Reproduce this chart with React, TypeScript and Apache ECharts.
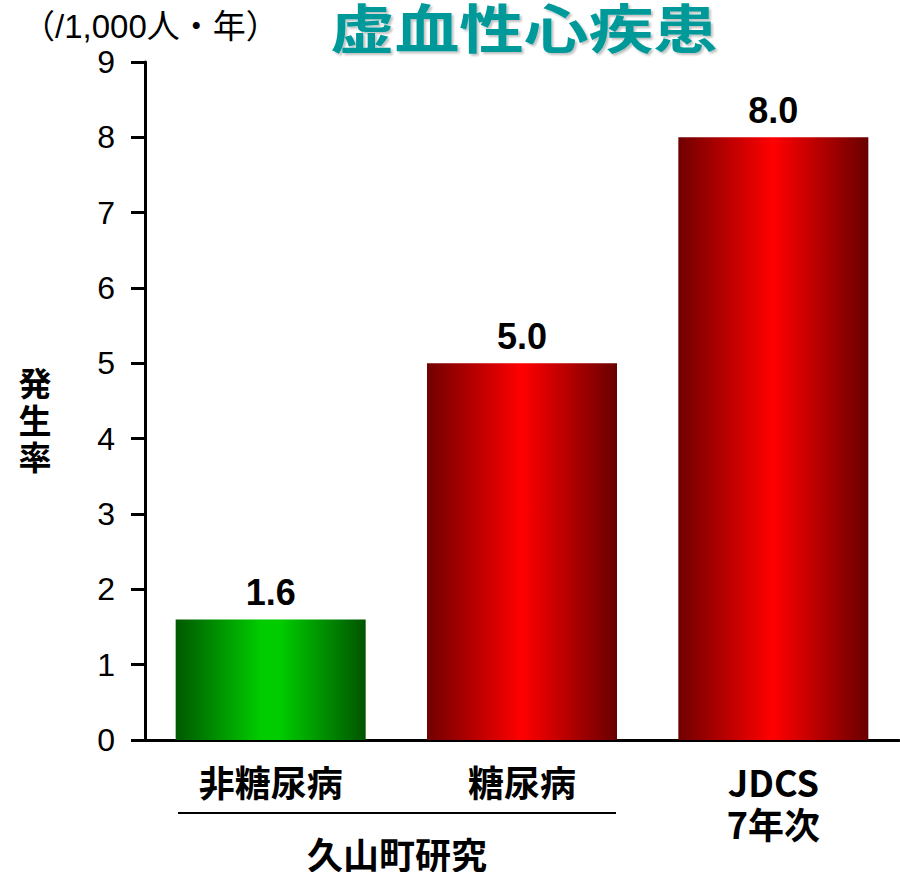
import React, { useEffect, useRef } from "react";
import * as echarts from "echarts";

const categories = ["非糖尿病", "糖尿病", "JDCS\n7年次"];
const values = [1.6, 5.0, 8.0];
const yTicks = { min: 0, max: 9, interval: 1 };
const titleText = "虚血性心疾患";
const unitText = "（/1,000人・年）";
const yName = "発生率";
const groupName = "久山町研究";

const green = new echarts.graphic.LinearGradient(0, 0, 1, 0, [
  { offset: 0, color: "#005800" },
  { offset: 0.45, color: "#00cc00" },
  { offset: 0.55, color: "#00cc00" },
  { offset: 1, color: "#005400" },
]);
const red = () =>
  new echarts.graphic.LinearGradient(0, 0, 1, 0, [
    { offset: 0, color: "#700000" },
    { offset: 0.5, color: "#ff0000" },
    { offset: 1, color: "#680000" },
  ]);
const barColors = [green, red(), red()];

const LATIN = "'Liberation Sans', Arial, 'Noto Sans CJK JP', sans-serif";
const CJK = "'Noto Sans CJK JP', 'Liberation Sans', sans-serif";

export default function App() {
  const ref = useRef<HTMLDivElement>(null);
  useEffect(() => {
    if (!ref.current) return;
    document.body.style.margin = "0";
    const chart = echarts.init(ref.current, null, { renderer: "svg" });
    chart.setOption({
      animation: false,
      grid: { left: 145, right: 1, top: 62, bottom: 132, containLabel: false },
      xAxis: {
        type: "category",
        data: categories,
        axisLine: { lineStyle: { color: "#000", width: 3 } },
        axisTick: { length: 13, lineStyle: { color: "#000", width: 3 }, interval: 0 },
        axisLabel: {
          interval: 0,
          color: "#000",
          fontSize: 36,
          fontWeight: "bold",
          lineHeight: 42,
          margin: 20,
          fontFamily: CJK,
        },
      },
      yAxis: {
        type: "value",
        min: yTicks.min,
        max: yTicks.max,
        interval: yTicks.interval,
        axisLine: { show: true, lineStyle: { color: "#000", width: 3 } },
        axisTick: { show: true, length: 14, lineStyle: { color: "#000", width: 3 } },
        splitLine: { show: false },
        axisLabel: { color: "#000", fontSize: 32, margin: 30, fontFamily: LATIN },
      },
      series: [
        {
          type: "bar",
          barWidth: 190,
          data: values.map((v, i) => ({ value: v, itemStyle: { color: barColors[i] } })),
          label: {
            show: true,
            position: "top",
            distance: 9,
            formatter: (p: any) => Number(p.value).toFixed(1),
            color: "#000",
            fontSize: 36,
            fontWeight: "bold",
            fontFamily: LATIN,
          },
        },
      ],
      graphic: [
        {
          type: "text",
          x: 524,
          y: 26,
          scaleX: 1.22,
          style: {
            text: titleText,
            fill: "#009999",
            fontSize: 53,
            fontWeight: "bold",
            fontFamily: CJK,
            textAlign: "center",
            textVerticalAlign: "middle",
            textShadowColor: "rgba(0,0,0,0.25)",
            textShadowOffsetX: 2,
            textShadowOffsetY: 2,
            textShadowBlur: 2,
          },
        },
        {
          type: "text",
          x: 22,
          y: 26,
          style: {
            text: unitText,
            fill: "#000",
            fontSize: 33,
            fontFamily: LATIN,
            textAlign: "left",
            textVerticalAlign: "middle",
          },
        },
        {
          type: "text",
          x: 35,
          y: 419,
          style: {
            text: yName.split("").join("\n"),
            fill: "#000",
            fontSize: 33,
            lineHeight: 37,
            fontWeight: "bold",
            fontFamily: CJK,
            textAlign: "center",
            textVerticalAlign: "middle",
          },
        },
        {
          type: "line",
          shape: { x1: 178, y1: 813, x2: 616, y2: 813 },
          style: { stroke: "#000", lineWidth: 2 },
        },
        {
          type: "text",
          x: 397,
          y: 853,
          style: {
            text: groupName,
            fill: "#000",
            fontSize: 36,
            fontWeight: "bold",
            fontFamily: CJK,
            textAlign: "center",
            textVerticalAlign: "middle",
          },
        },
      ],
    });
    return () => chart.dispose();
  }, []);
  return <div ref={ref} style={{ width: 900, height: 872 }} />;
}
